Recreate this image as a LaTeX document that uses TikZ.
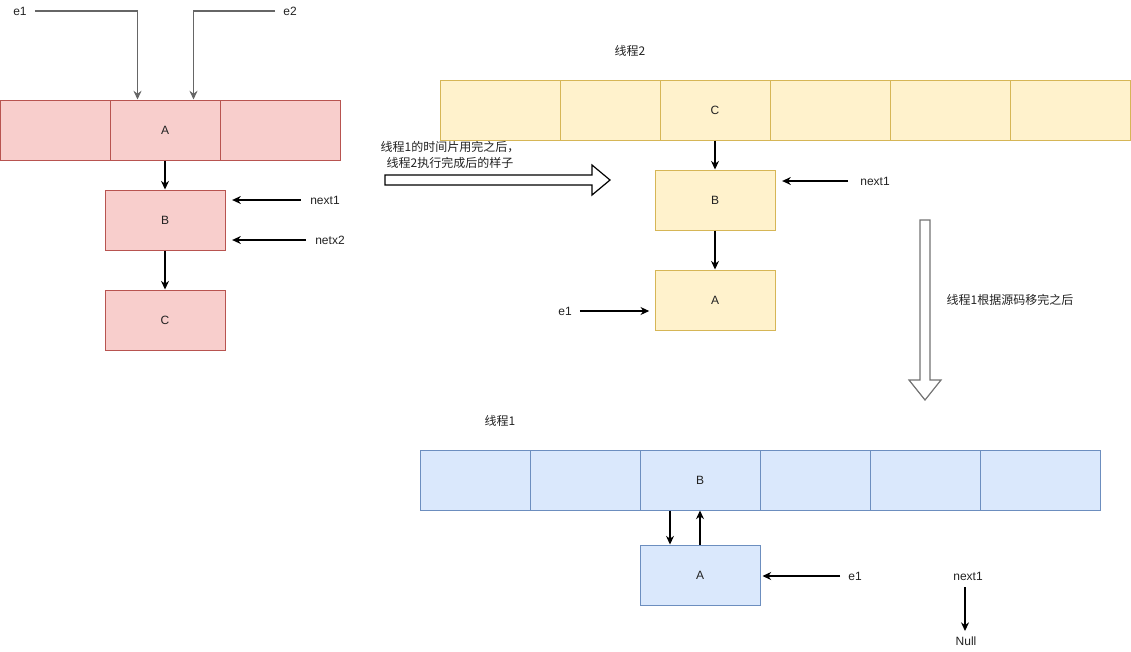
\documentclass[tikz,border=0pt]{standalone}
\usepackage{fontspec}
\setmainfont{Liberation Sans}
\newfontfamily\cjk{Noto Sans CJK SC}
\usetikzlibrary{arrows.meta}
\definecolor{rfill}{HTML}{F8CECC}
\definecolor{rline}{HTML}{B85450}
\definecolor{yfill}{HTML}{FFF2CC}
\definecolor{yline}{HTML}{D6B656}
\definecolor{bfill}{HTML}{DAE8FC}
\definecolor{bline}{HTML}{6C8EBF}
\definecolor{txt}{HTML}{222222}
\begin{document}
\begin{tikzpicture}[x=0.75pt,y=-0.75pt,
  every node/.style={font=\fontsize{9}{11}\selectfont, inner sep=0pt, text=txt},
  cellbase/.style={line width=0.75pt, minimum height=45pt, minimum width=#1*0.75pt},
  rcell/.style={cellbase=#1, draw=rline, fill=rfill},
  ycell/.style={cellbase=#1, draw=yline, fill=yfill},
  bcell/.style={cellbase=#1, draw=bline, fill=bfill},
  lbl/.style={},
  zh/.style={font=\fontsize{9}{11.5}\selectfont\cjk},
  arr/.style={-{Stealth[length=6.5pt,width=6pt]}, line width=0.8pt, draw=black},
  garr/.style={-{Stealth[length=6.5pt,width=6pt]}, line width=1.1pt, draw=black!60},
  hollow/.style={line width=0.9pt, fill=white}
]
\useasboundingbox (0,0) rectangle (1131,651);

% ---------- red (left) ----------
\node[rcell=110] (r1) at (55,130) {};
\node[rcell=110] (r2) at (165,130) {A};
\node[rcell=120] (r3) at (280,130) {};
\node[rcell=120] (rB) at (165,220) {B};
\node[rcell=120] (rC) at (165,320) {C};
\node[lbl] (e1) at (20,11) {e1};
\node[lbl] (e2) at (290,11) {e2};
\node[lbl] (rnext) at (325,200) {next1};
\node[lbl] (rnetx) at (330,240) {netx2};

\draw[garr] ([xshift=6pt]e1.east) -| ([xshift=21pt]r2.north west);
\draw[garr] ([xshift=-6pt]e2.west) -| ([xshift=-20.25pt]r2.north east);
\draw[arr] (r2.south) -- (rB.north);
\draw[arr] (rB.south) -- (rC.north);
\draw[arr, shorten <=7pt, shorten >=5pt] (rnext.west) -- (rB.east |- rnext.west);
\draw[arr, shorten <=7pt, shorten >=5pt] (rnetx.west) -- (rB.east |- rnetx.west);

% ---------- big right arrow ----------
\node[zh, align=center] (mid) at (450,155) {线程1的时间片用完之后，\\线程2执行完成后的样子};
\draw[hollow, draw=black] (385,175) -- (592,175) -- (592,165) -- (610,180) -- (592,195) -- (592,185) -- (385,185) -- cycle;

% ---------- yellow (thread 2) ----------
\node[zh] (t2) at (630,51) {线程2};
\node[ycell=120] (y1) at (500,110) {};
\node[ycell=100] (y2) at (610,110) {};
\node[ycell=110] (y3) at (715,110) {C};
\node[ycell=120] (y4) at (830,110) {};
\node[ycell=120] (y5) at (950,110) {};
\node[ycell=120] (y6) at (1070,110) {};
\node[ycell=120] (yB) at (715,200) {B};
\node[ycell=120] (yA) at (715,300) {A};
\node[lbl] (ynext) at (875,181) {next1};
\node[lbl] (ye1) at (565,311) {e1};

\draw[arr] (y3.south) -- (yB.north);
\draw[arr] (yB.south) -- (yA.north);
\draw[arr, shorten <=9pt, shorten >=5pt] (ynext.west) -- (yB.east |- ynext.west);
\draw[arr, shorten <=6pt, shorten >=4pt] (ye1.east) -- (yA.west |- ye1.east);

% ---------- big down arrow ----------
\draw[hollow, draw=black!55] (920,220) -- (930,220) -- (930,380) -- (941,380) -- (925,400) -- (909,380) -- (920,380) -- cycle;
\node[zh] (down) at (1010,300) {线程1根据源码移完之后};

% ---------- blue (thread 1) ----------
\node[zh] (t1) at (500,421) {线程1};
\node[bcell=110] (b1) at (475,480) {};
\node[bcell=110] (b2) at (585,480) {};
\node[bcell=120] (b3) at (700,480) {B};
\node[bcell=110] (b4) at (815,480) {};
\node[bcell=110] (b5) at (925,480) {};
\node[bcell=120] (b6) at (1040,480) {};
\node[bcell=120] (bA) at (700,575) {A};
\node[lbl] (be1) at (855,576) {e1};
\node[lbl] (bnext) at (968,576) {next1};
\node[lbl] (bnull) at (966,641) {Null};

\draw[arr] ([xshift=-22.5pt]b3.south) -- ([xshift=-22.5pt]bA.north);
\draw[arr] (bA.north) -- (b3.south);
\draw[arr, shorten <=6pt, shorten >=1.5pt] (be1.west) -- (bA.east |- be1.west);
\draw[arr, shorten <=5pt, shorten >=4pt] (bnext.south -| 965,0) -- (bnull.north -| 965,0);
\end{tikzpicture}
\end{document}
